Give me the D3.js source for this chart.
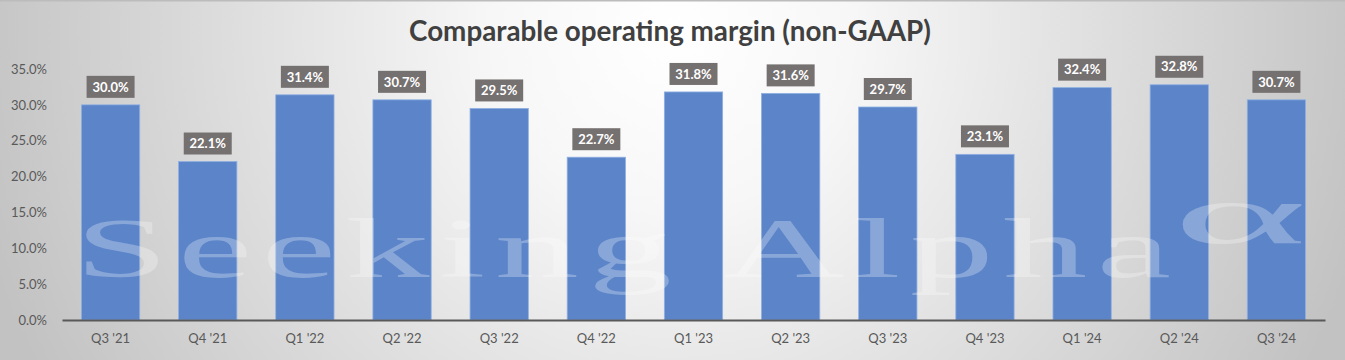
<!DOCTYPE html>
<html><head><meta charset="utf-8">
<script src="https://cdn.jsdelivr.net/npm/d3@7"></script>
<style>html,body{margin:0;padding:0;background:#fff;}svg{display:block;}</style>
</head><body><div id="chart"></div>
<script>
const categories = ["Q3 '21","Q4 '21","Q1 '22","Q2 '22","Q3 '22","Q4 '22","Q1 '23","Q2 '23","Q3 '23","Q4 '23","Q1 '24","Q2 '24","Q3 '24"];
const margins = [30.0,22.1,31.4,30.7,29.5,22.7,31.8,31.6,29.7,23.1,32.4,32.8,30.7];
const yTicks = [0,5,10,15,20,25,30,35];
const title = "Comparable operating margin (non-GAAP)";

const W = 1345, H = 360;
const svg = d3.select("#chart").append("svg").attr("width", W).attr("height", H);
const defs = svg.append("defs");
const rg = defs.append("radialGradient").attr("id","bg").attr("gradientUnits","userSpaceOnUse")
  .attr("cx",672).attr("cy",30).attr("r",720);
rg.append("stop").attr("offset",0).attr("stop-color","#ffffff");
rg.append("stop").attr("offset",0.25).attr("stop-color","#f7f7f7");
rg.append("stop").attr("offset",1).attr("stop-color","#c2c2c2");

svg.append("rect").attr("width",W).attr("height",H).attr("fill","url(#bg)");
svg.append("line").attr("x1",0).attr("x2",W).attr("y1",0.5).attr("y2",0.5).attr("stroke","#bcbcbc").attr("stroke-width",2);

const x = d3.scaleBand().domain(categories).range([62,1325]).paddingInner(0.4).paddingOuter(0.2);
const y = d3.scaleLinear().domain([0,35]).range([320,69]);

const font = "Lato, 'Open Sans', sans-serif";

svg.append("text").attr("x",670).attr("y",41).attr("text-anchor","middle")
  .attr("font-family",font).attr("font-weight","bold").attr("font-size",27.8)
  .attr("fill","#404040").text(title);

// y axis
const yAxis = d3.axisLeft(y).tickValues(yTicks).tickSize(0).tickPadding(0).tickFormat(d => d.toFixed(1) + "%");
const ya = svg.append("g").attr("transform","translate(47,0)").call(yAxis);
ya.select(".domain").remove();
ya.selectAll("text").attr("font-family",font).attr("font-size",13).attr("fill","#595959");

// bars
svg.append("g").selectAll("rect").data(margins).join("rect")
  .attr("x",(d,i)=>x(categories[i])).attr("width",x.bandwidth())
  .attr("y",d=>y(d)).attr("height",d=>y(0)-y(d))
  .attr("fill","#5b84c9").attr("stroke","#8fb0e2").attr("stroke-width",0.8);

// watermark
const sx = 2.0;
const wm = svg.append("g").attr("transform",`scale(${sx},1)`).attr("pointer-events","none");
wm.append("text").attr("x",75/sx).attr("y",277)
  .attr("font-family","'Liberation Serif','DejaVu Serif',serif").attr("font-size",84)
  .attr("textLength",1096/sx).attr("lengthAdjust","spacing")
  .attr("fill","#ffffff").attr("fill-opacity",0.28).text("Seeking Alpha");
wm.append("text").attr("x",1173/sx).attr("y",243)
  .attr("font-family","'Liberation Serif','DejaVu Serif',serif").attr("font-size",84)
  .attr("textLength",134/sx).attr("lengthAdjust","spacingAndGlyphs")
  .attr("fill","#ffffff").attr("fill-opacity",0.28).text("\u03B1");

// x axis
const xAxis = d3.axisBottom(x).tickSize(0).tickPadding(14);
const xa = svg.append("g").attr("transform","translate(0,320)").call(xAxis);
xa.select(".domain").attr("stroke","#595959").attr("stroke-width",2);
xa.selectAll("text").attr("font-family",font).attr("font-size",13).attr("fill","#595959");

// data labels
const lbl = svg.append("g").selectAll("g").data(margins).join("g")
  .attr("transform",(d,i)=>`translate(${x(categories[i])+x.bandwidth()/2},${y(d)-18})`);
lbl.append("rect").attr("x",-24).attr("y",-11).attr("width",48).attr("height",22).attr("fill","#767171");
lbl.append("text").attr("text-anchor","middle").attr("dy","0.36em")
  .attr("font-family",font).attr("font-weight","bold").attr("font-size",13).attr("fill","#ffffff")
  .text(d=>d.toFixed(1)+"%");
</script></body></html>
